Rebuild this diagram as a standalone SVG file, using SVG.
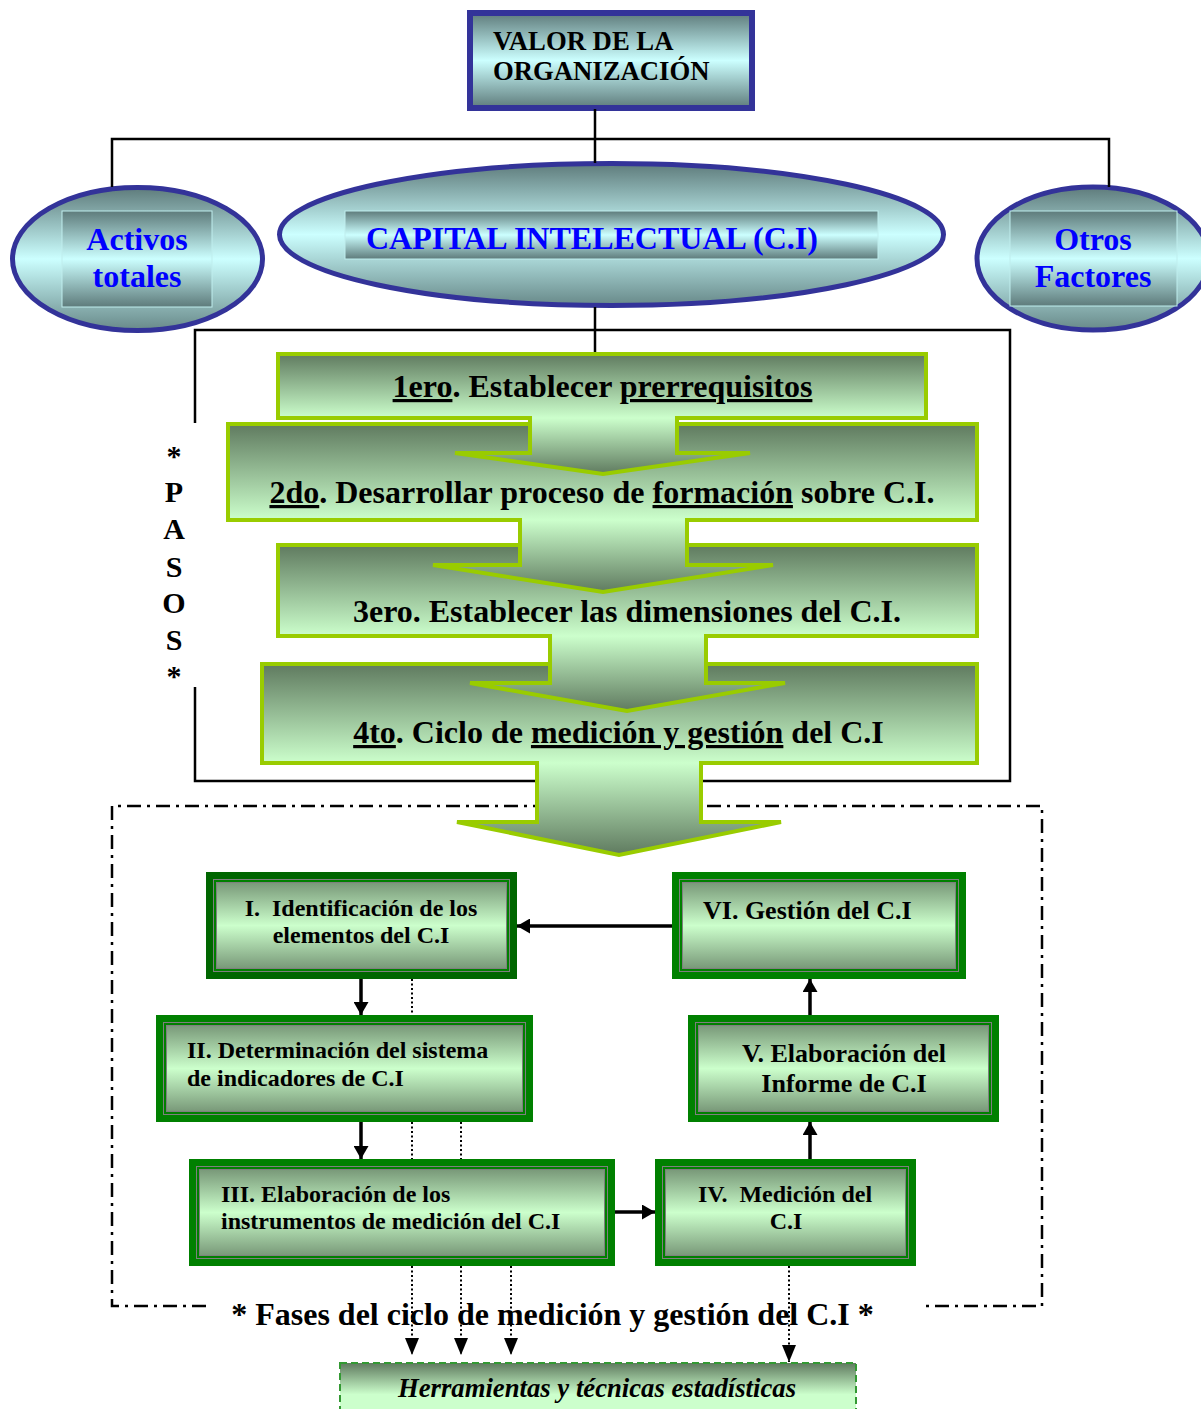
<svg xmlns="http://www.w3.org/2000/svg" width="1201" height="1409" viewBox="0 0 1201 1409">
  <defs>
    <linearGradient id="gTeal" x1="0" y1="0" x2="0" y2="1">
      <stop offset="0" stop-color="#5e7b7b"/>
      <stop offset="0.5" stop-color="#ccffff"/>
      <stop offset="1" stop-color="#5e7b7b"/>
    </linearGradient>
    <linearGradient id="gEllipse" x1="0" y1="0" x2="0" y2="1">
      <stop offset="0" stop-color="#5e7b7b"/>
      <stop offset="0.5" stop-color="#ccffff"/>
      <stop offset="1" stop-color="#688989"/>
    </linearGradient>
    <linearGradient id="gStep" x1="0" y1="0" x2="0" y2="1">
      <stop offset="0" stop-color="#5f7a5f"/>
      <stop offset="1" stop-color="#ccffcc"/>
    </linearGradient>
    <linearGradient id="gStem" x1="0" y1="0" x2="0" y2="1">
      <stop offset="0" stop-color="#ccffcc"/>
      <stop offset="1" stop-color="#5f7a5f"/>
    </linearGradient>
    <linearGradient id="gPhase" x1="0" y1="0" x2="0" y2="1">
      <stop offset="0" stop-color="#6b886b"/>
      <stop offset="0.5" stop-color="#ccffcc"/>
      <stop offset="1" stop-color="#6b886b"/>
    </linearGradient>
    <linearGradient id="gTools" x1="0" y1="0" x2="0" y2="1">
      <stop offset="0" stop-color="#5f7a5f"/>
      <stop offset="0.45" stop-color="#ccffcc"/>
      <stop offset="1" stop-color="#ccffcc"/>
    </linearGradient>
    <marker id="arrowSolid" viewBox="0 0 13 15" refX="13" refY="7.5" markerWidth="13" markerHeight="15" markerUnits="userSpaceOnUse" orient="auto">
      <path d="M0,0 L13,7.5 L0,15 Z" fill="#000"/>
    </marker>
    <marker id="arrowDot" viewBox="0 0 17 14" refX="17" refY="7" markerWidth="17" markerHeight="14" markerUnits="userSpaceOnUse" orient="auto">
      <path d="M0,0 L17,7 L0,14 Z" fill="#000"/>
    </marker>
  </defs>
  <style>
    .serif { font-family: "Liberation Serif", "Times New Roman", serif; font-weight: bold; }
    .blue { fill: #0000ff; font-size: 32px; }
    .big { font-size: 32px; fill: #000; }
    .ph { font-size: 24px; fill: #000; }
    .ph2 { font-size: 26px; fill: #000; }
    .u { text-decoration: underline; }
    .navy { stroke: #333399; }
    .innerbox { fill: url(#gTeal); stroke: #bfeeee; stroke-width: 1; }
    .step-fill { fill: url(#gStep); }
    .stem-fill { fill: url(#gStem); }
    .step-line { fill: none; stroke: #99cc00; stroke-width: 4; stroke-linejoin: miter; }
    .pf { fill: url(#gPhase); stroke: #008000; stroke-width: 7; }
    .pf1 { fill: url(#gPhase); stroke: #006600; stroke-width: 7; }
    .pg { fill: none; stroke: #7f7f7f; stroke-width: 4; }
    .pn { fill: none; stroke: #008000; stroke-width: 2; }
    .line { fill: none; stroke: #000; stroke-width: 2.5; }
    .flow { fill: none; stroke: #000; stroke-width: 3.5; marker-end: url(#arrowSolid); }
    .dot { fill: none; stroke: #000; stroke-width: 2; stroke-dasharray: 2 2.5; }
    .dot-end { fill: none; stroke: #000; stroke-width: 2; stroke-dasharray: 2 2.5; marker-end: url(#arrowDot); }
  </style>

  <rect width="1201" height="1409" fill="#ffffff"/>

  <!-- brackets around the steps and the phase cycle -->
  <g id="frames">
    <path class="line" d="M195,423 V330 H1010 V781 H195 V687"/>
    <path d="M206,1306 H112 V806 H1042 V1306 H925" fill="none" stroke="#000" stroke-width="2.5" stroke-dasharray="14 6 3 6"/>
  </g>

  <!-- top value box -->
  <g id="valor">
    <rect x="470" y="13" width="282" height="95" fill="url(#gTeal)" class="navy" stroke-width="6"/>
    <text class="serif" font-size="26.7" fill="#000" x="493" y="50">VALOR DE LA</text>
    <text class="serif" font-size="26.7" fill="#000" x="493" y="80">ORGANIZACIÓN</text>
  </g>

  <g id="activos">
    <ellipse cx="137.5" cy="259" rx="125" ry="71.5" fill="url(#gEllipse)" class="navy" stroke-width="5"/>
    <rect class="innerbox" x="62" y="211" width="150" height="96"/>
    <text class="serif blue" x="137" y="250" text-anchor="middle">Activos</text>
    <text class="serif blue" x="137" y="287" text-anchor="middle">totales</text>
  </g>

  <g id="capital">
    <ellipse cx="611.5" cy="234.5" rx="332" ry="71" fill="url(#gEllipse)" class="navy" stroke-width="5"/>
    <rect class="innerbox" x="345" y="211" width="533" height="48"/>
    <text class="serif blue" x="366" y="249">CAPITAL INTELECTUAL (C.I)</text>
  </g>

  <g id="otros">
    <ellipse cx="1093" cy="258.5" rx="116" ry="71.5" fill="url(#gEllipse)" class="navy" stroke-width="5"/>
    <rect class="innerbox" x="1010" y="211" width="167" height="95"/>
    <text class="serif blue" x="1093" y="250" text-anchor="middle">Otros</text>
    <text class="serif blue" x="1093" y="287" text-anchor="middle">Factores</text>
  </g>

  <!-- vertical PASOS label -->
  <g id="pasos" class="serif" font-size="30" fill="#000" text-anchor="middle">
    <text x="174" y="466">*</text>
    <text x="174" y="502">P</text>
    <text x="174" y="539">A</text>
    <text x="174" y="577">S</text>
    <text x="174" y="613">O</text>
    <text x="174" y="650">S</text>
    <text x="174" y="686">*</text>
  </g>

  <!-- steps, drawn bottom-up so each arrow sits over the next box -->
  <g id="step-4">
    <rect class="step-fill" x="262" y="664" width="715" height="99"/>
    <path class="stem-fill" d="M537,763 H701 V822 H781 L619,855 L457,822 H537 Z"/>
    <path class="step-line" d="M262,664 H977 V763 H701 V822 H781 L619,855 L457,822 H537 V763 H262 Z"/>
    <text class="serif big" x="618.5" y="743" text-anchor="middle"><tspan class="u">4to</tspan>. Ciclo de <tspan class="u">medición y gestión</tspan> del C.I</text>
  </g>

  <g id="step-3">
    <rect class="step-fill" x="278" y="545" width="699" height="91"/>
    <path class="stem-fill" d="M550,636 H706 V683 H785 L627,711 L470,683 H550 Z"/>
    <path class="step-line" d="M278,545 H977 V636 H706 V683 H785 L627,711 L470,683 H550 V636 H278 Z"/>
    <text class="serif big" x="627" y="622" text-anchor="middle">3ero. Establecer las dimensiones del C.I.</text>
  </g>

  <g id="step-2">
    <rect class="step-fill" x="228" y="424" width="749" height="96"/>
    <path class="stem-fill" d="M520,520 H687 V565 H773 L603,592 L433,565 H520 Z"/>
    <path class="step-line" d="M228,424 H977 V520 H687 V565 H773 L603,592 L433,565 H520 V520 H228 Z"/>
    <text class="serif big" x="602" y="503" text-anchor="middle"><tspan class="u">2do</tspan>. Desarrollar proceso de <tspan class="u">formación</tspan> sobre C.I.</text>
  </g>

  <g id="step-1">
    <rect class="step-fill" x="278" y="354" width="648" height="64"/>
    <path class="stem-fill" d="M530,418 H677 V453 H750 L603,474 L455,453 H530 Z"/>
    <path class="step-line" d="M278,354 H926 V418 H677 V453 H750 L603,474 L455,453 H530 V418 H278 Z"/>
    <text class="serif big" x="602.5" y="397" text-anchor="middle"><tspan class="u">1ero</tspan>. Establecer <tspan class="u">prerrequisitos</tspan></text>
  </g>

  <!-- phase boxes of the measurement cycle -->
  <g id="phase-1">
    <rect class="pf1" x="209.5" y="875.5" width="304" height="100"/>
    <rect class="pg" x="215" y="881" width="293" height="89"/>
    <rect class="pn" x="215" y="881" width="293" height="89"/>
    <text class="serif ph" x="361" y="916" text-anchor="middle" xml:space="preserve">I.  Identificación de los</text>
    <text class="serif ph" x="361" y="943" text-anchor="middle">elementos del C.I</text>
  </g>

  <g id="phase-2">
    <rect class="pf" x="159.5" y="1018.5" width="370" height="100"/>
    <rect class="pg" x="165" y="1024" width="359" height="89"/>
    <rect class="pn" x="165" y="1024" width="359" height="89"/>
    <text class="serif ph" x="187" y="1058">II. Determinación del sistema</text>
    <text class="serif ph" x="187" y="1086">de indicadores de C.I</text>
  </g>

  <g id="phase-3">
    <rect class="pf" x="192.5" y="1162.5" width="419" height="100"/>
    <rect class="pg" x="198" y="1168" width="408" height="89"/>
    <rect class="pn" x="198" y="1168" width="408" height="89"/>
    <text class="serif ph" x="221" y="1202">III. Elaboración de los</text>
    <text class="serif ph" x="221" y="1229">instrumentos de medición del C.I</text>
  </g>

  <g id="phase-4">
    <rect class="pf" x="658.5" y="1162.5" width="254" height="100"/>
    <rect class="pg" x="664" y="1168" width="243" height="89"/>
    <rect class="pn" x="664" y="1168" width="243" height="89"/>
    <text class="serif ph" x="785" y="1202" text-anchor="middle" xml:space="preserve">IV.  Medición del</text>
    <text class="serif ph" x="786" y="1229" text-anchor="middle">C.I</text>
  </g>

  <g id="phase-5">
    <rect class="pf" x="691.5" y="1018.5" width="304" height="100"/>
    <rect class="pg" x="697" y="1024" width="293" height="89"/>
    <rect class="pn" x="697" y="1024" width="293" height="89"/>
    <text class="serif ph2" x="844" y="1062" text-anchor="middle">V. Elaboración del</text>
    <text class="serif ph2" x="844" y="1092" text-anchor="middle">Informe de C.I</text>
  </g>

  <g id="phase-6">
    <rect class="pf" x="675.5" y="875.5" width="287" height="100"/>
    <rect class="pg" x="681" y="881" width="276" height="89"/>
    <rect class="pn" x="681" y="881" width="276" height="89"/>
    <text class="serif ph2" x="703" y="919">VI. Gestión del C.I</text>
  </g>

  <g id="fases-label">
    <text class="serif big" x="552.5" y="1325" text-anchor="middle">* Fases del ciclo de medición y gestión del C.I *</text>
  </g>

  <g id="herramientas">
    <rect x="340" y="1363" width="516" height="70" fill="url(#gTools)" stroke="#339933" stroke-width="2" stroke-dasharray="7 4"/>
    <text class="serif" font-style="italic" font-size="26.7" fill="#000" x="597" y="1397" text-anchor="middle">Herramientas y técnicas estadísticas</text>
  </g>

  <!-- connectors -->
  <g id="connectors">
    <path class="line" d="M595,109 V163 M112,187 V139 H1109 V187"/>
    <path class="line" d="M595,307 V352"/>
    <line class="flow" x1="672" y1="926" x2="517" y2="926"/>
    <line class="flow" x1="361" y1="979" x2="361" y2="1015"/>
    <line class="flow" x1="361" y1="1122" x2="361" y2="1159"/>
    <line class="flow" x1="615" y1="1212" x2="655" y2="1212"/>
    <line class="flow" x1="810" y1="1159" x2="810" y2="1122"/>
    <line class="flow" x1="810" y1="1015" x2="810" y2="979"/>
    <line class="dot" x1="412" y1="979" x2="412" y2="1015"/>
    <line class="dot" x1="412" y1="1122" x2="412" y2="1159"/>
    <line class="dot" x1="461" y1="1122" x2="461" y2="1159"/>
    <line class="dot-end" x1="412" y1="1266" x2="412" y2="1355"/>
    <line class="dot-end" x1="461" y1="1266" x2="461" y2="1355"/>
    <line class="dot-end" x1="511" y1="1266" x2="511" y2="1355"/>
    <line class="dot-end" x1="789" y1="1266" x2="789" y2="1362"/>
  </g>
</svg>
